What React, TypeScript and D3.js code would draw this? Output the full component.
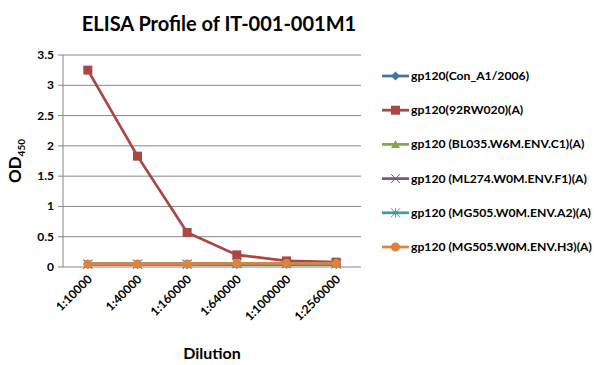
import React from "react";
import * as d3 from "d3";

const categories = ["1:10000", "1:40000", "1:160000", "1:640000", "1:1000000", "1:2560000"];
const seriesNames = [
  "gp120(Con_A1/2006)",
  "gp120(92RW020)(A)",
  "gp120 (BL035.W6M.ENV.C1)(A)",
  "gp120 (ML274.W0M.ENV.F1)(A)",
  "gp120 (MG505.W0M.ENV.A2)(A)",
  "gp120 (MG505.W0M.ENV.H3)(A)",
];
const conA1 = [0.04, 0.04, 0.04, 0.04, 0.04, 0.04];
const rw020 = [3.25, 1.83, 0.57, 0.2, 0.1, 0.08];
const bl035 = [0.05, 0.05, 0.05, 0.05, 0.05, 0.05];
const ml274 = [0.05, 0.05, 0.05, 0.06, 0.06, 0.05];
const mg505a2 = [0.04, 0.04, 0.04, 0.05, 0.05, 0.05];
const mg505h3 = [0.05, 0.05, 0.05, 0.06, 0.06, 0.06];
const seriesValues = [conA1, rw020, bl035, ml274, mg505a2, mg505h3];
const colors = ["#4572A7", "#AA4643", "#89A54E", "#71588F", "#4198AF", "#DB843D"];
const markers = ["diamond", "square", "triangle", "x", "star", "circle"];
const yTicks = [0, 0.5, 1, 1.5, 2, 2.5, 3, 3.5];

const FONT = "Lato, 'Open Sans', sans-serif";

function Marker({ type, x, y, color }: { type: string; x: number; y: number; color: string }) {
  const s = 4.5;
  switch (type) {
    case "diamond":
      return <path d={`M${x},${y - s}L${x + s},${y}L${x},${y + s}L${x - s},${y}Z`} fill={color} />;
    case "square":
      return <rect x={x - s} y={y - s} width={2 * s} height={2 * s} fill={color} />;
    case "triangle":
      return <path d={`M${x},${y - s}L${x + s},${y + s - 1}L${x - s},${y + s - 1}Z`} fill={color} />;
    case "x":
      return (
        <path d={`M${x - s},${y - s}L${x + s},${y + s}M${x - s},${y + s}L${x + s},${y - s}`} stroke={color} strokeWidth={1} />
      );
    case "star":
      return (
        <path
          d={`M${x - s},${y - s}L${x + s},${y + s}M${x - s},${y + s}L${x + s},${y - s}M${x},${y - s}L${x},${y + s}`}
          stroke={color}
          strokeWidth={1}
        />
      );
    default:
      return <circle cx={x} cy={y} r={s} fill={color} />;
  }
}

export default function App() {
  const W = 594, H = 365;
  const left = 63, right = 361, top = 55, bottom = 267;
  const x = d3.scaleBand<string>().domain(categories).range([left, right]);
  const y = d3.scaleLinear().domain([0, 3.5]).range([bottom, top]);
  const cx = (c: string) => (x(c) as number) + x.bandwidth() / 2;
  const line = d3
    .line<number>()
    .x((_, i) => cx(categories[i]))
    .y((v) => y(v));
  const order = [0, 2, 3, 4, 1, 5];
  return (
    <svg width={W} height={H} style={{ position: "absolute", left: 0, top: 0, background: "#fff" }} fontFamily={FONT}>
      <rect width={W} height={H} fill="#fff" />
      <text x={219} y={31} textAnchor="middle" fontSize={20} fontWeight="bold" fill="#000">
        ELISA Profile of IT-001-001M1
      </text>
      {yTicks.map((t) => (
        <g key={t}>
          <line x1={left - 5} x2={right} y1={y(t)} y2={y(t)} stroke="#868686" strokeWidth={1} />
          <text x={54} y={y(t) + 4} textAnchor="end" fontSize={12} fontWeight="bold" fill="#000">
            {t}
          </text>
        </g>
      ))}
      <line x1={left} x2={left} y1={top} y2={bottom} stroke="#868686" />
      {categories.map((c) => (
        <text
          key={c}
          transform={`translate(${cx(c) + 5},${bottom + 13}) rotate(-45)`}
          textAnchor="end"
          fontSize={12}
          fontWeight="bold"
          fill="#000"
        >
          {c}
        </text>
      ))}
      {order.map((si) => (
        <g key={si}>
          <path d={line(seriesValues[si]) || ""} fill="none" stroke={colors[si]} strokeWidth={2.75} />
          {seriesValues[si].map((v, i) => (
            <Marker key={i} type={markers[si]} x={cx(categories[i])} y={y(v)} color={colors[si]} />
          ))}
        </g>
      ))}
      <text transform={`translate(21,${(top + bottom) / 2}) rotate(-90)`} textAnchor="middle" fontSize={17} fontWeight="bold" fill="#000">
        OD<tspan fontSize={10} dy={4}>450</tspan>
      </text>
      <text x={212} y={359} textAnchor="middle" fontSize={16} fontWeight="bold" fill="#000">
        Dilution
      </text>
      {seriesNames.map((n, i) => {
        const ly = 76 + i * 34.2;
        return (
          <g key={n}>
            <line x1={382} x2={409} y1={ly} y2={ly} stroke={colors[i]} strokeWidth={2.75} />
            <Marker type={markers[i]} x={395.5} y={ly} color={colors[i]} />
            <text x={411} y={ly + 4} fontSize={12.2} fontWeight="bold" fill="#000">
              {n}
            </text>
          </g>
        );
      })}
    </svg>
  );
}
